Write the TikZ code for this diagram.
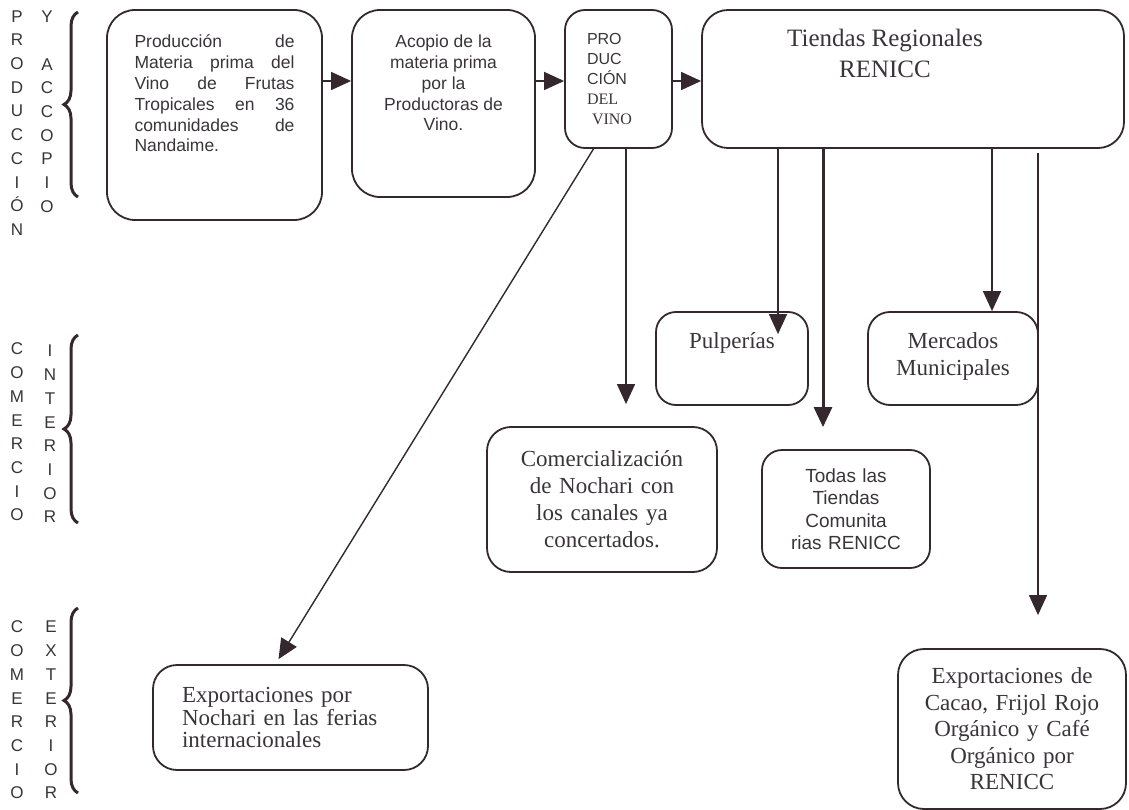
\documentclass[tikz,border=0pt]{standalone}
\usepackage{fontspec}
\setmainfont{Liberation Serif}
\setsansfont{Liberation Sans}
\usetikzlibrary{arrows.meta,decorations.pathreplacing}
\definecolor{ink}{RGB}{52,40,46}
\definecolor{txt}{RGB}{58,52,58}

\begin{document}
\begin{tikzpicture}[x=1pt, y=-1pt,
  caja/.style={draw=ink, line width=1.8pt, rounded corners=24pt, text=txt, inner sep=0pt},
  flecha/.style={draw=ink, line width=1.4pt, -{Triangle[length=20pt,width=18pt]}},
  llave/.style={draw=ink, line width=3pt, decorate, decoration={brace, amplitude=14pt}},
  letras/.style={font=\sffamily\fontsize{17}{23.7}\selectfont, text=txt, align=center, inner sep=0pt},
  sans/.style={font=\sffamily\fontsize{17.5}{20.8}\selectfont},
  serif/.style={font=\rmfamily\fontsize{23}{27}\selectfont}]
  \useasboundingbox (0,0) rectangle (1129,810);

  % etapas a la izquierda
  \node[letras] (prod) at (17,123) {P\\R\\O\\D\\U\\C\\C\\I\\Ó\\N};
  \node[letras] (acop) at (47,111.8) {Y\\\mbox{}\\A\\C\\C\\O\\P\\I\\O};
  \node[letras] (com1) at (17,432) {C\\O\\M\\E\\R\\C\\I\\O};
  \node[letras] (inter) at (50,434) {I\\N\\T\\E\\R\\I\\O\\R};
  \node[letras] (com2) at (17,710) {C\\O\\M\\E\\R\\C\\I\\O};
  \node[letras] (exter) at (51,710) {E\\X\\T\\E\\R\\I\\O\\R};
  \draw[llave] (78,197) -- (78,12);
  \draw[llave] (78,523) -- (78,335);
  \draw[llave] (78,793) -- (78,608);

  % produccion y acopio
  \node[caja, sans, rounded corners=28pt, minimum width=215pt, minimum height=210pt] (prodmat) at (214.5,115)
    {\parbox[t][160pt][t]{160pt}{Producción de\linebreak Materia prima del\linebreak Vino de Frutas\linebreak
     Tropicales en 36\linebreak comunidades de\linebreak Nandaime.}};
  \node[caja, sans, rounded corners=28pt, minimum width=183pt, minimum height=187pt] (acopio) at (443.5,103.5)
    {\parbox[t][137pt][t]{130pt}{\centering Acopio de la\\ materia prima\\ por la\\ Productoras de\\ Vino.}};
  \node[caja, rounded corners=20pt, font=\fontsize{16}{20}\selectfont, text width=63pt, align=left,
    minimum width=107pt, minimum height=138pt] (vino) at (618.5,79)
    {\sffamily PRO\\DUC\\CIÓN\\\rmfamily DEL\\\hspace*{5pt}VINO};
  \node[caja, rounded corners=26pt, font=\rmfamily\fontsize{25}{31}\selectfont, minimum width=422pt,
    minimum height=138pt] (tiendas) at (913,79)
    {\parbox[t][100pt][t]{360pt}{\centering\rightskip=56pt plus 1fil Tiendas Regionales\\RENICC}};

  % comercio interior
  \node[caja, serif, rounded corners=20pt, minimum width=152pt, minimum height=93pt] (pulp) at (732,358.5)
    {\parbox[t][52pt][t]{130pt}{\centering Pulperías}};
  \node[caja, serif, rounded corners=22pt, minimum width=170pt, minimum height=93pt] (merc) at (953,358.5)
    {\parbox[t][52pt][t]{150pt}{\centering Mercados\\Municipales}};
  \node[caja, serif, rounded corners=24pt, text width=200pt, align=center, minimum width=230pt,
    minimum height=145pt] (comerc) at (602,499.5)
    {Comercialización\\de Nochari con\\los canales ya\\concertados.};
  \node[caja, rounded corners=20pt, font=\sffamily\fontsize{19}{22.5}\selectfont, text width=140pt,
    align=center, minimum width=168pt, minimum height=118pt] (todas) at (846,509)
    {Todas las\\Tiendas\\Comunita\\rias RENICC};

  % comercio exterior
  \node[caja, rounded corners=24pt, font=\rmfamily\fontsize{23}{22.5}\selectfont, text width=217pt,
    align=left, minimum width=275pt, minimum height=105pt] (nochari) at (290.5,717.5)
    {Exportaciones por\\Nochari en las ferias\\internacionales};
  \node[caja, serif, rounded corners=26pt, font=\rmfamily\fontsize{23}{26.5}\selectfont, text width=200pt,
    align=center, minimum width=228pt, minimum height=160pt] (cacao) at (1012,729)
    {Exportaciones de\\Cacao, Frijol Rojo\\Orgánico y Café\\Orgánico por\\RENICC};

  % flechas
  \coordinate (fila) at (0,81);
  \draw[flecha] (prodmat.east |- fila) -- (acopio.west |- fila);
  \draw[flecha] (acopio.east |- fila) -- (vino.west |- fila);
  \draw[flecha] (vino.east |- fila) -- (tiendas.west |- fila);
  \draw[flecha] ([xshift=-25pt]vino.south) -- ([xshift=-12pt,yshift=5pt]nochari.north);
  \draw[flecha] ([xshift=7.5pt]vino.south) -- ([xshift=24pt,yshift=22pt]comerc.north);
  \draw[flecha] ([xshift=-135pt]tiendas.south) -- ([xshift=46pt,yshift=-23pt]pulp.north);
  \draw[flecha, line width=3pt] ([xshift=-90pt]tiendas.south) -- ([xshift=-23pt,yshift=22pt]todas.north);
  \draw[flecha] ([xshift=79pt]tiendas.south) -- ([xshift=39pt]merc.north);
  \draw[flecha] ([xshift=125pt,yshift=-4pt]tiendas.south) -- ([xshift=26pt,yshift=33pt]cacao.north);
\end{tikzpicture}
\end{document}
